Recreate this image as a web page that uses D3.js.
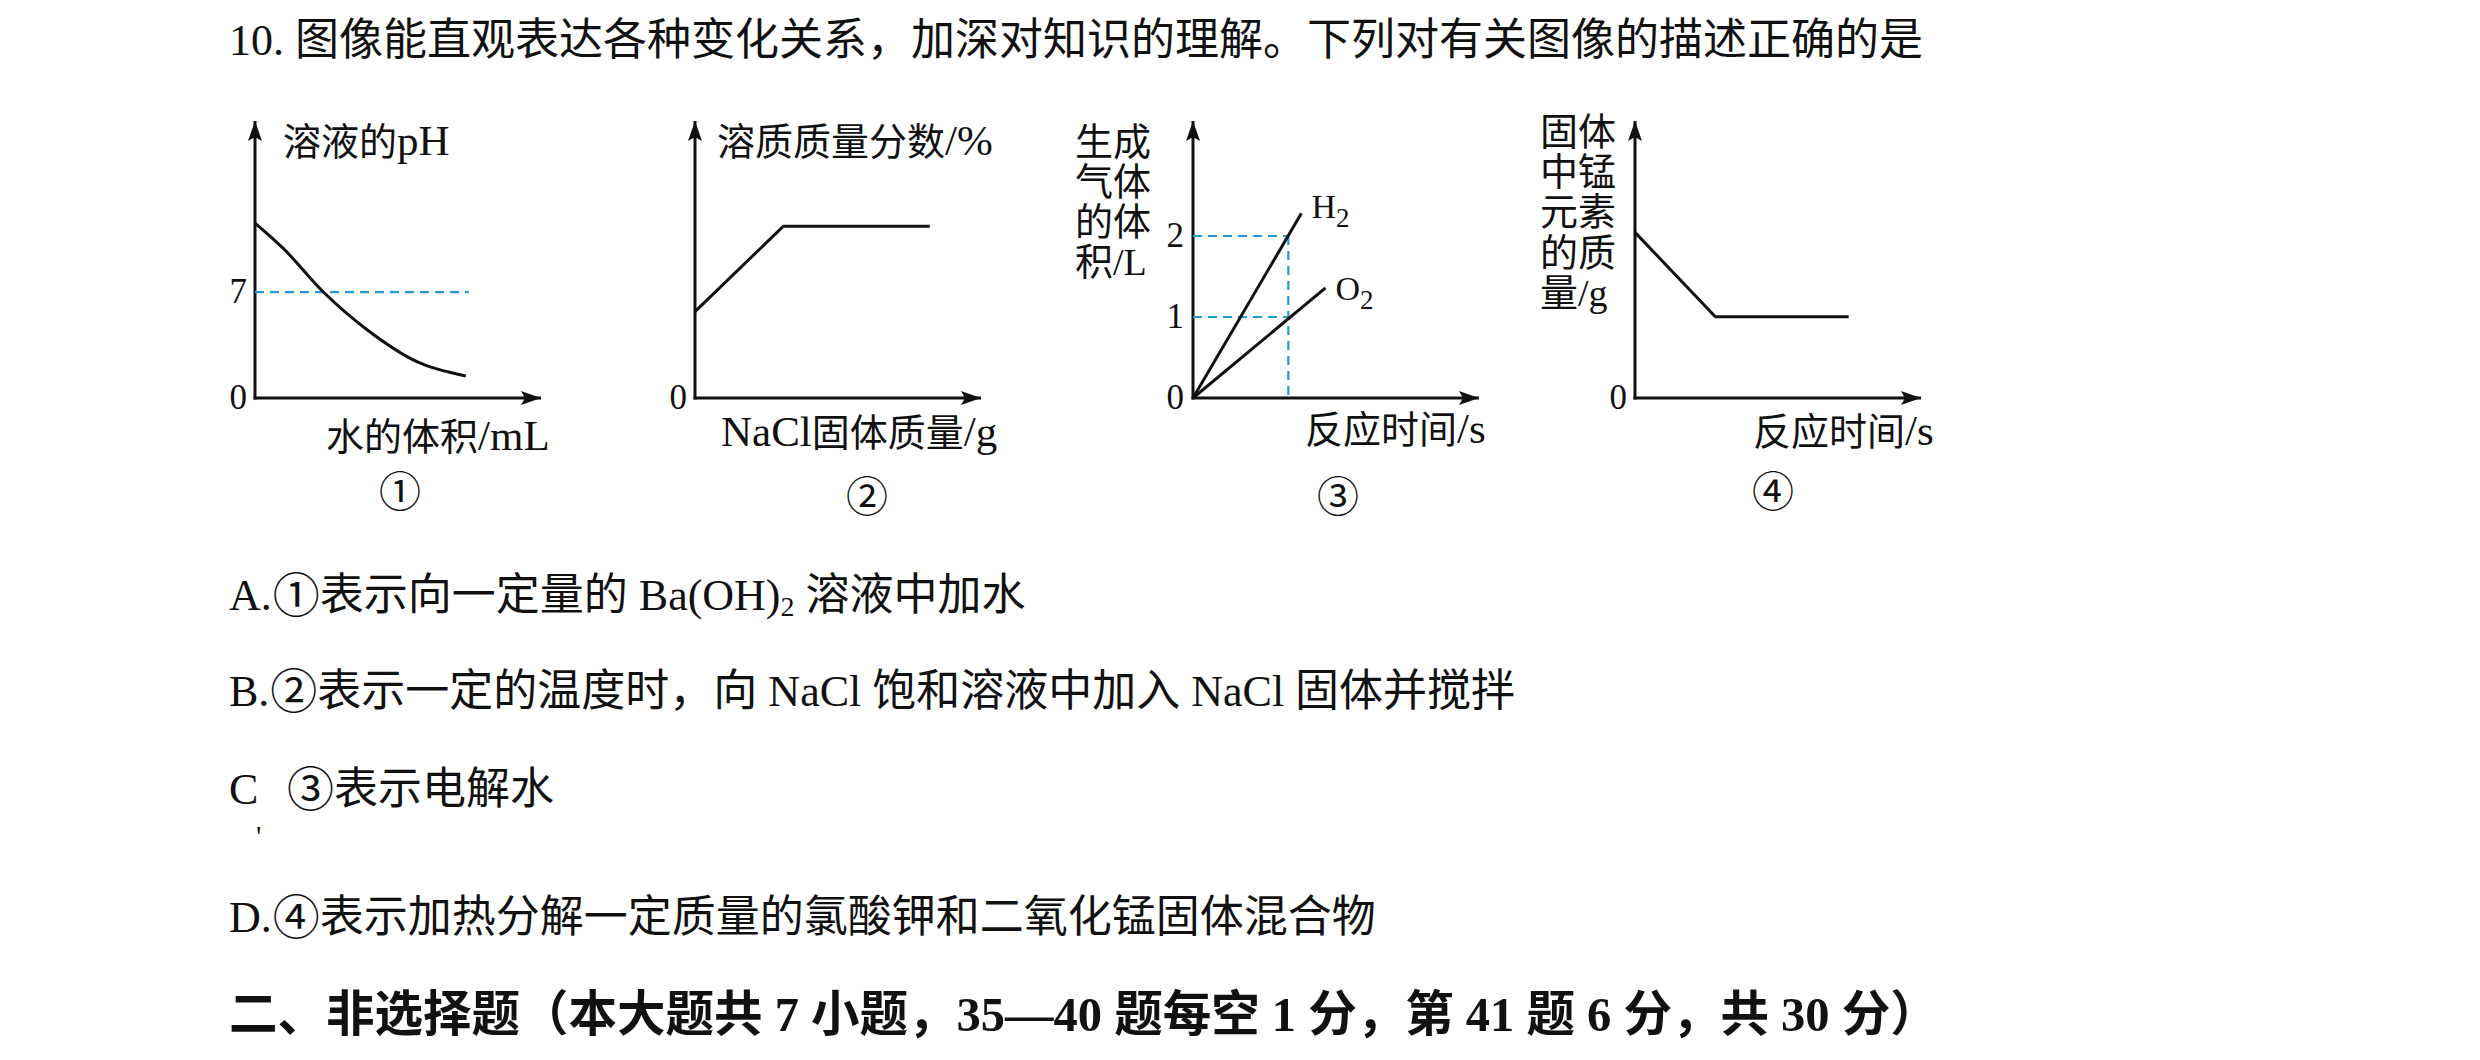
<!DOCTYPE html>
<html><head><meta charset="utf-8">
<script src="https://cdn.jsdelivr.net/npm/d3@7"></script>
<style>
body{margin:0;background:#fff}
svg{display:block;background:#fff}
text{font-family:"Liberation Serif","Noto Sans CJK SC",serif;fill:#111}
</style>
</head><body>
<svg id="c" width="2480" height="1060"></svg>
<script>
// ---------------- data ----------------
// Chart ①: solution pH vs water volume
const phWater = [0, 0.98, 2.39, 3.93, 5.68, 7.37];
const phValue = [11.56, 9.9, 7.0, 4.49, 2.38, 1.45];
const phNeutral = 7;
const phRefEnd = 7.47;
const phTicks = [0, 7];
// Chart ②: solute mass fraction vs NaCl mass
const naclMass = [0, 3.09, 8.21];
const naclFraction = [3.12, 6.2, 6.2];
const naclTicks = [0];
// Chart ③: gas volume vs time (electrolysis)
const gasNames = ["H", "O"];
const h2Time = [0, 1.137];
const h2Vol = [0, 2.28];
const o2Time = [0, 1.39];
const o2Vol = [0, 1.36];
const gasRefTime = 1;
const gasRefVols = [2, 1];
const gasTicks = [0, 1, 2];
// Chart ④: Mn mass in solid vs time
const mnTime = [0, 2.81, 7.47];
const mnMass = [5.98, 2.93, 2.93];
const mnTicks = [0];

// texts
const titleText = "10. 图像能直观表达各种变化关系，加深对知识的理解。下列对有关图像的描述正确的是";
const panelNums = ["①", "②", "③", "④"];
const gasYLabel = ["生成", "气体", "的体", "积/L"];
const mnYLabel = ["固体", "中锰", "元素", "的质", "量/g"];

const svg = d3.select("#c");
const BLUE = "#1f9bd6";
const FONT = '"Liberation Serif","Noto Sans CJK SC",serif';
const CJK = 38, LAT = 43, LAT_STACK = 38;

// write string as runs inside a text: CJK chars at one size, Latin at another
const isCJK = ch => /[\u2460-\u24ff\u3000-\u9fff\uff00-\uffef]/.test(ch);
function mixed(textSel, str, cs, ls, x, y) {
  let runs = [];
  for (const ch of str) {
    const c = isCJK(ch);
    if (runs.length && runs[runs.length - 1].c === c) runs[runs.length - 1].s += ch;
    else runs.push({c, s: ch});
  }
  runs.forEach((r, i) => {
    const t = textSel.append("tspan").attr("font-size", r.c ? cs : ls).text(r.s);
    if (i === 0 && x !== undefined) t.attr("x", x).attr("y", y);
  });
  return textSel;
}

// arrow marker
svg.append("defs").append("marker")
  .attr("id", "arr").attr("markerUnits", "userSpaceOnUse")
  .attr("markerWidth", 22).attr("markerHeight", 16)
  .attr("refX", 20).attr("refY", 7).attr("orient", "auto")
  .append("path").attr("d", "M0,0 L20,7 L0,14 L4,7 Z").attr("fill", "#111");

function panel(cfg) {
  const g = svg.append("g");
  const x = d3.scaleLinear().domain(cfg.xDomain).range([cfg.ox, cfg.xEnd]);
  const y = d3.scaleLinear().domain(cfg.yDomain).range([cfg.oy, cfg.yTop]);
  g.append("line").attr("x1", x.range()[0] - 1.5).attr("x2", x.range()[1])
    .attr("y1", y.range()[0]).attr("y2", y.range()[0])
    .attr("stroke", "#111").attr("stroke-width", 3).attr("marker-end", "url(#arr)");
  g.append("line").attr("x1", x.range()[0]).attr("x2", x.range()[0])
    .attr("y1", y.range()[0] + 1.5).attr("y2", y.range()[1])
    .attr("stroke", "#111").attr("stroke-width", 3).attr("marker-end", "url(#arr)");
  const ax = g.append("g").attr("transform", `translate(${cfg.ox},0)`)
    .call(d3.axisLeft(y).tickValues(cfg.ticks).tickSize(0).tickPadding(cfg.pad).tickFormat(d3.format("d")));
  ax.select(".domain").remove();
  ax.attr("font-family", FONT).attr("font-size", 35);
  ax.selectAll("text").attr("fill", "#111").attr("dy", "0.3em");
  return {g, x, y};
}

function panelNum(g, i, cx, cy) {
  g.append("text").attr("x", cx).attr("y", cy).attr("font-size", 42)
    .attr("text-anchor", "middle").text(panelNums[i]);
}

function stacked(g, lines, x, y0, step) {
  const t = g.append("text");
  lines.forEach((s, i) => mixed(t, s, CJK, LAT_STACK, x, y0 + i * step));
  return t;
}

// ---------- Chart ① ----------
{
  const {g, x, y} = panel({ox: 255, oy: 398, xEnd: 541, yTop: 121, xDomain: [0, 10], yDomain: [0, 18.3], ticks: phTicks, pad: 8});
  g.append("line").attr("x1", x(0)).attr("x2", x(phRefEnd)).attr("y1", y(phNeutral)).attr("y2", y(phNeutral))
    .attr("stroke", BLUE).attr("stroke-width", 2.2).attr("stroke-dasharray", "9,6");
  const pts = phWater.map((v, i) => [v, phValue[i]]);
  g.append("path").datum(pts).attr("fill", "none").attr("stroke", "#111").attr("stroke-width", 3)
    .attr("d", d3.line().x(d => x(d[0])).y(d => y(d[1])).curve(d3.curveMonotoneX));
  mixed(g.append("text"), "溶液的pH", CJK, LAT, 283, 155);
  mixed(g.append("text"), "水的体积/mL", CJK, LAT, 326, 450);
  panelNum(g, 0, 400, 507);
}

// ---------- Chart ② ----------
{
  const {g, x, y} = panel({ox: 695, oy: 398, xEnd: 981, yTop: 121, xDomain: [0, 10], yDomain: [0, 10], ticks: naclTicks, pad: 8});
  const pts = naclMass.map((v, i) => [v, naclFraction[i]]);
  g.append("path").datum(pts).attr("fill", "none").attr("stroke", "#111").attr("stroke-width", 3)
    .attr("d", d3.line().x(d => x(d[0])).y(d => y(d[1])));
  mixed(g.append("text"), "溶质质量分数/%", CJK, LAT, 717, 155);
  mixed(g.append("text"), "NaCl固体质量/g", CJK, LAT, 721, 446);
  panelNum(g, 1, 867, 512);
}

// ---------- Chart ③ ----------
{
  const {g, x, y} = panel({ox: 1193, oy: 398, xEnd: 1479, yTop: 121, xDomain: [0, 3], yDomain: [0, 3.42], ticks: gasTicks, pad: 9});
  gasRefVols.forEach(v => {
    g.append("line").attr("x1", x(0)).attr("x2", x(gasRefTime)).attr("y1", y(v)).attr("y2", y(v))
      .attr("stroke", BLUE).attr("stroke-width", 2.2).attr("stroke-dasharray", "9,6");
  });
  g.append("line").attr("x1", x(gasRefTime)).attr("x2", x(gasRefTime)).attr("y1", y(d3.max(gasRefVols))).attr("y2", y(0))
    .attr("stroke", BLUE).attr("stroke-width", 2.2).attr("stroke-dasharray", "9,6");
  const series = [
    {name: gasNames[0], pts: h2Time.map((t, i) => [t, h2Vol[i]]), dy: 5},
    {name: gasNames[1], pts: o2Time.map((t, i) => [t, o2Vol[i]]), dy: 12}
  ];
  series.forEach(s => {
    g.append("path").datum(s.pts).attr("fill", "none").attr("stroke", "#111").attr("stroke-width", 3)
      .attr("d", d3.line().x(d => x(d[0])).y(d => y(d[1])));
    const last = s.pts[s.pts.length - 1];
    const t = g.append("text").attr("x", x(last[0]) + 10).attr("y", y(last[1]) + s.dy).attr("font-size", 34);
    t.append("tspan").text(s.name);
    t.append("tspan").attr("font-size", 27).attr("dy", 9).text("2");
  });
  stacked(g, gasYLabel, 1075, 155, 40);
  mixed(g.append("text"), "反应时间/s", CJK, LAT, 1305, 443);
  panelNum(g, 2, 1338, 512);
}

// ---------- Chart ④ ----------
{
  const {g, x, y} = panel({ox: 1635, oy: 398, xEnd: 1921, yTop: 121, xDomain: [0, 10], yDomain: [0, 10], ticks: mnTicks, pad: 8});
  const pts = mnTime.map((v, i) => [v, mnMass[i]]);
  g.append("path").datum(pts).attr("fill", "none").attr("stroke", "#111").attr("stroke-width", 3)
    .attr("d", d3.line().x(d => x(d[0])).y(d => y(d[1])));
  stacked(g, mnYLabel, 1540, 145, 40.2);
  mixed(g.append("text"), "反应时间/s", CJK, LAT, 1753, 445);
  panelNum(g, 3, 1773, 507);
}

// ---------- question text ----------
svg.append("text").attr("x", 229).attr("y", 55).attr("font-size", 44).text(titleText);

function optionLine(label, num, rest, y) {
  const t = svg.append("text").attr("x", 229).attr("y", y).attr("font-size", 44);
  t.append("tspan").text(label);
  t.append("tspan").attr("font-size", 47).attr("dx", 1).attr("dy", 2).text(num);
  t.append("tspan").attr("dy", -2).text(rest);
  return t;
}

const A = optionLine("A.", "①", "表示向一定量的 Ba(OH)", 610);
A.append("tspan").attr("font-size", 28).attr("dy", 6).text("2");
A.append("tspan").attr("dy", -6).text(" 溶液中加水");

optionLine("B.", "②", "表示一定的温度时，向 NaCl 饱和溶液中加入 NaCl 固体并搅拌", 706);

svg.append("text").attr("x", 229).attr("y", 804).attr("font-size", 44).text("C");
{
  const t = svg.append("text").attr("x", 287).attr("y", 804).attr("font-size", 44);
  t.append("tspan").attr("font-size", 47).attr("dy", 2).text("③");
  t.append("tspan").attr("dy", -2).text("表示电解水");
}
svg.append("text").attr("x", 256).attr("y", 846).attr("font-size", 30).text("'");

optionLine("D.", "④", "表示加热分解一定质量的氯酸钾和二氧化锰固体混合物", 932);

svg.append("text").attr("x", 229).attr("y", 1031).attr("font-size", 48.5).attr("font-weight", "bold")
  .text("二、非选择题（本大题共 7 小题，35—40 题每空 1 分，第 41 题 6 分，共 30 分）");
</script>
</body></html>
